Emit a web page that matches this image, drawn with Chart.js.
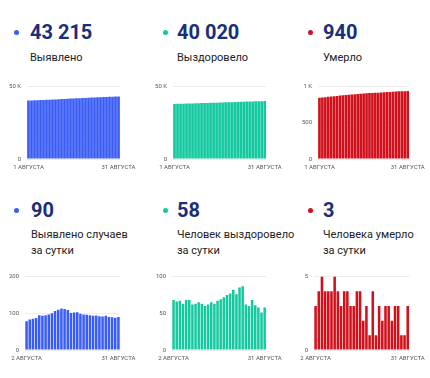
<!DOCTYPE html>
<html lang="ru">
<head>
    <meta charset="UTF-8">
    <title>Коронавирус: август</title>
    <script src="https://cdn.jsdelivr.net/npm/chart.js"></script>
    <style>
        body { margin: 0; background: #fff; font-family: Roboto, "Noto Sans", sans-serif; }
        #wrap { position: relative; width: 430px; height: 378px; overflow: hidden; }
        .dot { position: absolute; width: 5px; height: 5px; border-radius: 50%; }
        .num { position: absolute; font-size: 20px; line-height: 20px; font-weight: 700; color: #1b2e7a; white-space: nowrap; }
        .ttl { position: absolute; font-size: 11px; line-height: 16px; color: #222; white-space: nowrap; }
        canvas { position: absolute; }
    </style>
</head>
<body>
<div id="wrap"></div>

<script>
    // Categories
    var monthDays = [];
    for (var d = 1; d <= 31; d++) monthDays.push(d + ' АВГУСТА');
    var dailyDays = monthDays.slice(1);

    // Cumulative totals, 1-31 August
    const casesTotal = [40339, 40417, 40500, 40585, 40672, 40767, 40860, 40955, 41052, 41152, 41258,
        41368, 41481, 41593, 41702, 41803, 41905, 42008, 42107, 42204, 42300, 42395, 42488, 42582,
        42674, 42765, 42858, 42948, 43037, 43125, 43215];
    const recoveredTotal = [38009, 38077, 38143, 38210, 38273, 38341, 38409, 38471, 38534, 38599, 38662,
        38722, 38784, 38849, 38912, 38979, 39048, 39120, 39195, 39272, 39354, 39430, 39515, 39602,
        39664, 39724, 39792, 39853, 39911, 39962, 40020];
    const deathsTotal = [847, 850, 854, 859, 863, 867, 871, 876, 880, 883, 887, 891, 894, 897, 901, 905,
        907, 910, 911, 915, 916, 919, 921, 924, 927, 929, 932, 935, 936, 937, 940];

    // Daily values, 2-31 August
    const casesDaily = [78, 83, 85, 87, 95, 93, 95, 97, 100, 106, 110, 113, 112, 109, 101, 102, 103, 99,
        97, 96, 95, 93, 94, 92, 91, 93, 90, 89, 88, 90];
    const recoveredDaily = [68, 66, 67, 63, 68, 68, 62, 63, 65, 63, 60, 62, 65, 63, 67, 69, 72, 75, 77,
        82, 76, 85, 87, 62, 60, 68, 61, 58, 51, 58];
    const deathsDaily = [3, 4, 5, 4, 4, 4, 5, 4, 3, 4, 4, 3, 3, 4, 4, 2, 3, 1, 4, 1, 3, 2, 3, 3, 2, 3, 3,
        1, 1, 3];

    const titles = ['Выявлено', 'Выздоровело', 'Умерло',
        'Выявлено случаев<br>за сутки', 'Человек выздоровело<br>за сутки', 'Человека умерло<br>за сутки'];

    const BLUE = '#3a5cf6', GREEN = '#14c9a0', RED = '#d0111c';

    // panel layout: x of dot, x of text, canvas left, y-axis width, plot width, canvas width
    var panels = [
        { labels: monthDays, data: casesTotal, color: BLUE, max: 50000, step: 50000, row: 0, dot: 14, tx: 30, cx: 0, yw: 27, pw: 93, cw: 143 },
        { labels: monthDays, data: recoveredTotal, color: GREEN, max: 50000, step: 50000, row: 0, dot: 163, tx: 177, cx: 145, yw: 28, pw: 94, cw: 142 },
        { labels: monthDays, data: deathsTotal, color: RED, max: 1000, step: 500, row: 0, dot: 308, tx: 323, cx: 290, yw: 28, pw: 95, cw: 140 },
        { labels: dailyDays, data: casesDaily, color: BLUE, max: 200, step: 100, row: 1, dot: 14, tx: 31, cx: 0, yw: 25, pw: 95, cw: 143 },
        { labels: dailyDays, data: recoveredDaily, color: GREEN, max: 100, step: 50, row: 1, dot: 163, tx: 177, cx: 145, yw: 27, pw: 95, cw: 142 },
        { labels: dailyDays, data: deathsDaily, color: RED, max: 5, step: 5, row: 1, dot: 308, tx: 323, cx: 290, yw: 24, pw: 100, cw: 140 }
    ];

    function fmt(n) {
        return String(n).replace(/\B(?=(\d{3})+(?!\d))/g, '\u00a0');
    }

    var wrap = document.getElementById('wrap');

    panels.forEach(function (p, i) {
        var dy = p.row === 0 ? 0 : 178.5;
        var gridTop = p.row === 0 ? 85 : 275;
        var plotH = p.row === 0 ? 74 : 75;

        var dot = document.createElement('div');
        dot.className = 'dot';
        dot.style.left = p.dot + 'px';
        dot.style.top = (29.5 + dy) + 'px';
        dot.style.background = p.color;
        wrap.appendChild(dot);

        var num = document.createElement('div');
        num.className = 'num';
        num.style.left = p.tx + 'px';
        num.style.top = (21.5 + dy) + 'px';
        num.textContent = fmt(p.data[p.data.length - 1]);
        wrap.appendChild(num);

        var ttl = document.createElement('div');
        ttl.className = 'ttl';
        ttl.style.left = p.tx + 'px';
        ttl.style.top = (p.row === 0 ? 50 : 226.5) + 'px';
        ttl.innerHTML = titles[i];
        wrap.appendChild(ttl);

        var cv = document.createElement('canvas');
        cv.width = p.cw;
        cv.height = 8 + plotH + 16;
        cv.style.left = p.cx + 'px';
        cv.style.top = (gridTop - 8) + 'px';
        wrap.appendChild(cv);

        var last = p.labels.length - 1;
        new Chart(cv.getContext('2d'), {
            type: 'bar',
            data: {
                labels: p.labels,
                datasets: [{
                    data: p.data,
                    backgroundColor: p.color,
                    borderWidth: 0,
                    barPercentage: 1,
                    categoryPercentage: p.row === 0 ? 0.9 : 0.8
                }]
            },
            options: {
                responsive: false,
                animation: false,
                layout: { padding: { top: 8, right: p.cw - p.yw - p.pw, left: 0, bottom: 0 } },
                plugins: { legend: { display: false }, tooltip: { enabled: false } },
                scales: {
                    x: {
                        grid: { display: false, drawTicks: false },
                        border: { display: false },
                        ticks: {
                            autoSkip: false,
                            maxRotation: 0,
                            minRotation: 0,
                            padding: 5,
                            color: '#555',
                            font: { family: 'Roboto', size: 6 },
                            callback: function (v, idx) {
                                return (idx === 0 || idx === last) ? this.getLabelForValue(v) : '';
                            }
                        },
                        afterFit: function (s) { s.height = 16; }
                    },
                    y: {
                        min: 0,
                        max: p.max,
                        grid: { color: '#ececec', drawTicks: false },
                        border: { display: false },
                        ticks: {
                            stepSize: p.step,
                            padding: 6,
                            color: '#555',
                            font: { family: 'Roboto', size: 6 },
                            callback: function (v) { return v >= 1000 ? (v / 1000) + ' K' : v; }
                        },
                        afterFit: function (s) { s.width = p.yw; }
                    }
                }
            }
        });
    });
</script>
</body>
</html>
